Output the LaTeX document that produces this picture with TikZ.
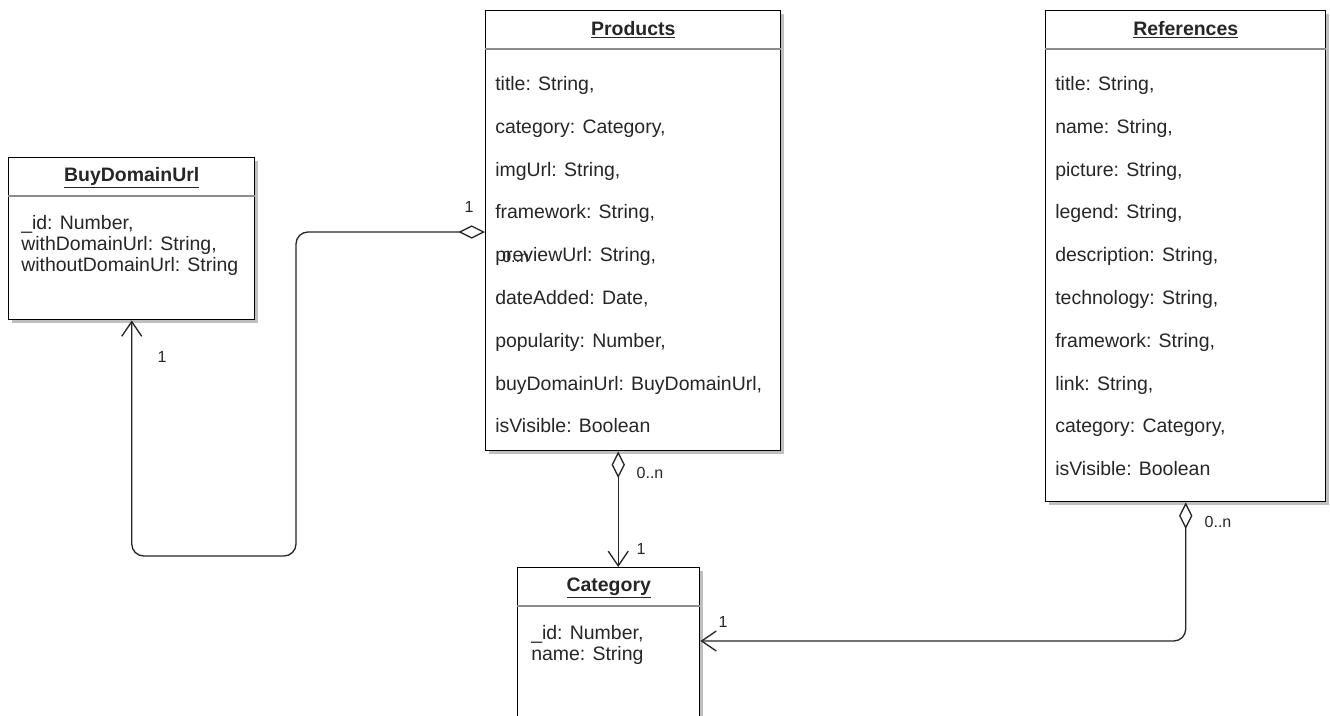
\documentclass[tikz,border=0pt]{standalone}
\usepackage{fontspec}
\setmainfont{Liberation Sans}
\usetikzlibrary{arrows.meta}
\usetikzlibrary{calc}
\usetikzlibrary{shadows}

\begin{document}
\begin{tikzpicture}[x=0.75pt, y=-0.75pt,
  classbox/.style={draw=black, line width=1.1pt, fill=white, anchor=north west, inner sep=0pt,
    drop shadow={shadow xshift=2.2pt, shadow yshift=-2.2pt, fill=black!25, opacity=1}},
  sep/.style={draw=black!45, line width=1pt},
  title/.style={font=\fontsize{14.6}{17}\selectfont\bfseries, text=black!85, inner sep=0pt},
  attr/.style={font=\fontsize{14.6}{17}\selectfont, text=black!85, anchor=west, inner sep=0pt,
    text height=0.75em, text depth=0.22em},
  mult/.style={font=\fontsize{12}{14}\selectfont, text=black!85, inner sep=0pt},
  link/.style={draw=black!85, line width=1pt, rounded corners=9},
  agg/.style={{Diamond[open, length=20pt, width=10pt]}-{Straight Barb[length=11pt, width=15pt]}}]
	\useasboundingbox (0,0) rectangle (1330,715);
	\clip (0,0) rectangle (1330,715);

	% classes
	\node[classbox, minimum width=246*0.75pt, minimum height=162*0.75pt] (buy) at (8,157) {};
	\node[classbox, minimum width=295*0.75pt, minimum height=440*0.75pt] (prod) at (485,10) {};
	\node[classbox, minimum width=280*0.75pt, minimum height=491*0.75pt] (refs) at (1045,10) {};
	\node[classbox, minimum width=182*0.75pt, minimum height=175*0.75pt] (cat) at (517,567) {};

	\foreach \cls in {buy, prod, refs, cat}
		\draw[sep] ($(\cls.north west)+(0,39)$) -- ($(\cls.north east)+(0,39)$);

	\node[title] (buy-t) at ($(buy.north)+(0,21)$) {\underline{BuyDomainUrl}};
	\node[title] (prod-t) at ($(prod.north)+(0,19.5)$) {\underline{Products}};
	\node[title] (refs-t) at ($(refs.north)+(0,19.5)$) {\underline{References}};
	\node[title] (cat-t) at ($(cat.north)+(0,21)$) {\underline{Category}};

	% attributes
	\foreach \t [count=\i from 0] in {{\_id: Number,}, {withDomainUrl: String,}, {withoutDomainUrl: String}}
		\node[attr] (buy-\i) at ($(buy.north west)+(13,69+21*\i)$) {\t};

	\foreach \t [count=\i from 0] in {{title: String,}, {category: Category,}, {imgUrl: String,},
		{framework: String,}, {previewUrl: String,}, {dateAdded: Date,}, {popularity: Number,},
		{buyDomainUrl: BuyDomainUrl,}, {isVisible: Boolean}}
		\node[attr] (prod-\i) at ($(prod.north west)+(10,77+42.8*\i)$) {\t};

	\foreach \t [count=\i from 0] in {{title: String,}, {name: String,}, {picture: String,},
		{legend: String,}, {description: String,}, {technology: String,}, {framework: String,},
		{link: String,}, {category: Category,}, {isVisible: Boolean}}
		\node[attr] (refs-\i) at ($(refs.north west)+(10,77+42.8*\i)$) {\t};

	\foreach \t [count=\i from 0] in {{\_id: Number,}, {name: String}}
		\node[attr] (cat-\i) at ($(cat.north west)+(14,69+21*\i)$) {\t};

	% associations
	\coordinate (aggL) at ($(prod.north west)+(0,222)$);
	\coordinate (bendL) at (296,556);
	\draw[link, agg] (aggL) -| (bendL) -| (buy.south);
	\node[mult] (mL1) at (469,207) {1};
	\node[mult] (mL2) at (162,357) {1};
	\node[mult, anchor=west] (mL3) at (502,257) {0..n};

	\coordinate (aggB) at ($(prod.south)+(-15,0)$);
	\draw[link, agg] (aggB) -- (aggB |- cat.north);
	\node[mult] (mB1) at (650,473) {0..n};
	\node[mult] (mB2) at (641,549) {1};

	\coordinate (catIn) at ($(cat.north east)+(0,74)$);
	\draw[link, agg] (refs.south) |- (catIn);
	\node[mult] (mR1) at (1218,522) {0..n};
	\node[mult] (mR2) at (723,622) {1};
\end{tikzpicture}
\end{document}
